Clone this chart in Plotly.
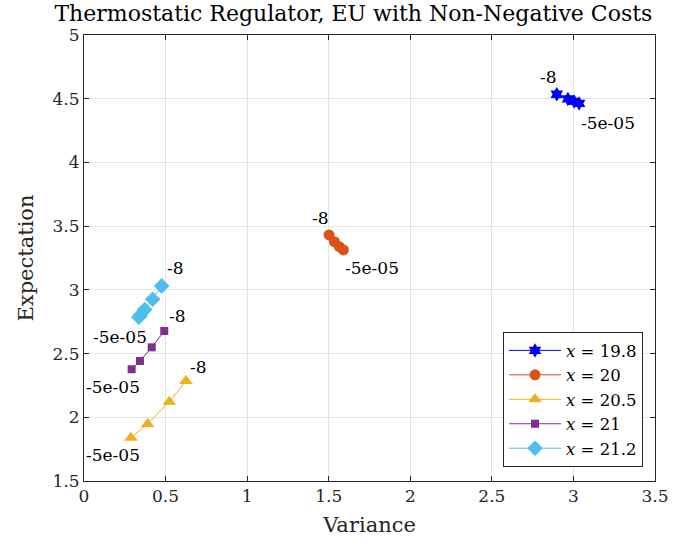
import plotly.graph_objects as go

names = ["<i>x</i> = 19.8", "<i>x</i> = 20", "<i>x</i> = 20.5", "<i>x</i> = 21", "<i>x</i> = 21.2"]
var_198 = [2.898, 2.966, 3.004, 3.035]
exp_198 = [4.535, 4.498, 4.479, 4.463]
var_20 = [1.502, 1.535, 1.565, 1.590]
exp_20 = [3.431, 3.378, 3.339, 3.313]
var_205 = [0.625, 0.523, 0.390, 0.288]
exp_205 = [2.285, 2.122, 1.947, 1.840]
var_21 = [0.492, 0.415, 0.343, 0.292]
exp_21 = [2.677, 2.549, 2.442, 2.377]
var_212 = [0.476, 0.421, 0.372, 0.345, 0.336]
exp_212 = [3.031, 2.926, 2.845, 2.800, 2.785]
first_label = "-8"
last_label = "-5e-05"

series = [
    (var_198, exp_198, "#0000FF", "hexagram", 11),
    (var_20, exp_20, "#D95319", "circle", 11),
    (var_205, exp_205, "#EDB120", "triangle-up", 12),
    (var_21, exp_21, "#7E2F8E", "square", 8),
    (var_212, exp_212, "#4DBEEE", "diamond", 12),
]

FONT = "DejaVu Serif"
fig = go.Figure()
for (xs, ys, c, sym, sz), nm in zip(series, names):
    fig.add_trace(go.Scatter(x=xs, y=ys, mode="lines+markers", name=nm,
                             line=dict(color=c, width=1),
                             marker=dict(symbol=sym, size=sz, color=c, line=dict(width=0))))

# label offsets: (first: xanchor, xshift, yshift), (last: ...)
offs = [
    (("right", 2, 17), ("left", 0, -20)),
    (("right", 2, 17), ("left", 0, -18)),
    (("left", 2, 14), ("right", 11, -17)),
    (("left", 3, 15), ("right", 10, -18)),
    (("left", 3, 18), ("right", 10, -20)),
]
for (xs, ys, c, sym, sz), (fo, lo) in zip(series, offs):
    fig.add_annotation(x=xs[0], y=ys[0], text=first_label, showarrow=False,
                       xanchor=fo[0], xshift=fo[1], yshift=fo[2],
                       font=dict(family=FONT, size=17, color="black"))
    fig.add_annotation(x=xs[-1], y=ys[-1], text=last_label, showarrow=False,
                       xanchor=lo[0], xshift=lo[1], yshift=lo[2],
                       font=dict(family=FONT, size=17, color="black"))

axis_common = dict(showgrid=True, gridcolor="#E3E3E3", gridwidth=1,
                   showline=True, linecolor="#262626", linewidth=1, mirror="ticks",
                   ticks="inside", ticklen=5, tickcolor="#262626", automargin=False,
                   zeroline=False, tickfont=dict(family=FONT, size=17, color="#262626"))

fig.update_layout(
    width=697, height=546,
    margin=dict(l=84, r=42, t=35, b=65),
    paper_bgcolor="white", plot_bgcolor="white",
    title=dict(text="Thermostatic Regulator, EU with Non-Negative Costs",
               x=0.507, xanchor="center", y=0.976, yanchor="middle",
               font=dict(family=FONT, size=22, color="black")),
    xaxis=dict(range=[0, 3.5], tickvals=[0, 0.5, 1, 1.5, 2, 2.5, 3, 3.5],
               ticktext=["0", "0.5", "1", "1.5", "2", "2.5", "3", "3.5"],
               title=dict(text="Variance", font=dict(family=FONT, size=21, color="#262626"), standoff=11),
               **axis_common),
    yaxis=dict(range=[1.5, 5], tickvals=[1.5, 2, 2.5, 3, 3.5, 4, 4.5, 5],
               ticktext=["1.5", "2", "2.5", "3", "3.5", "4", "4.5", "5"],
               title=dict(text="Expectation", font=dict(family=FONT, size=21, color="#262626"), standoff=13),
               **axis_common),
    legend=dict(x=0.979, y=0.031, xanchor="right", yanchor="bottom",
                bgcolor="white", bordercolor="#262626", borderwidth=1,
                font=dict(family=FONT, size=16.5, color="black"),
                itemwidth=52, tracegroupgap=0),
    showlegend=True,
)

fig.write_html("out.html", config={"displayModeBar": False},
               post_script="document.body.style.margin='0';")
